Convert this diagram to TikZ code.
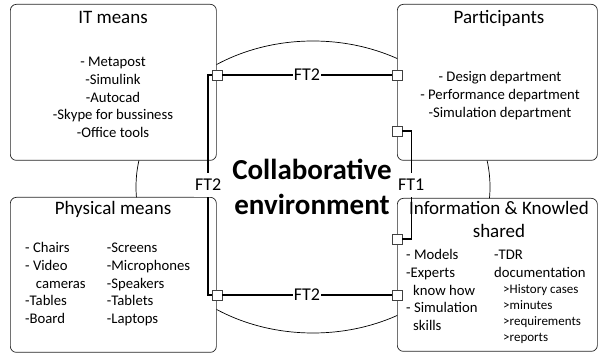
\documentclass[tikz,border=0pt]{standalone}
\usepackage{fontspec}
\setmainfont{Carlito}
\usetikzlibrary{positioning}

\begin{document}
\begin{tikzpicture}[
  x=1pt, y=-1pt,
  box/.style={draw=black!85, line width=0.7pt, rounded corners=6pt, fill=white, inner sep=0pt, anchor=north west},
  port/.style={draw=black!75, line width=0.6pt, fill=white, minimum size=10pt, inner sep=0pt},
  link/.style={line width=1.6pt},
  boxtitle/.style={font=\fontsize{19}{23}\selectfont, anchor=base, inner sep=0pt},
  items/.style={font=\fontsize{14.7}{17.6}\selectfont, anchor=base, inner sep=0pt},
  subitems/.style={font=\fontsize{13}{16}\selectfont, anchor=base west, align=left, inner sep=0pt},
  ftlabel/.style={font=\fontsize{18}{20}\selectfont, fill=white, inner xsep=1pt, minimum height=24pt}
]
\useasboundingbox (0,0) rectangle (598,355);
% collaborative environment
\draw[line width=0.7pt] (313,187) ellipse [x radius=177, y radius=146];
% the four boxes
\node[box, minimum width=206pt, minimum height=156pt] (it) at (10,4) {};
\node[box, minimum width=200pt, minimum height=156pt] (pa) at (397,4) {};
\node[box, minimum width=206pt, minimum height=155pt] (ph) at (10,197) {};
\node[box, minimum width=200pt, minimum height=153pt] (in) at (397,198) {};
% IT means (multi-line nodes sit on their last baseline)
\node[boxtitle] (ittitle) at (113,24) {IT means};
\node[items, align=center] (itlist) at (113,137.4) {- Metapost\\-Simulink\\-Autocad\\-Skype for bussiness\\-Office tools};
% participants
\node[boxtitle] (patitle) at (499,24) {Participants};
\node[items, align=center] (palist) at (500,117.2) {- Design department\\- Performance department\\-Simulation department};
% physical means
\node[boxtitle] (phtitle) at (113,215) {Physical means};
\node[items, anchor=base west, align=left] (phleft) at (25,323.4) {- Chairs\\- Video\\\hspace*{10.7pt}cameras\\-Tables\\-Board};
\node[items, anchor=base west, align=left] (phright) at (106.7,323.4) {-Screens\\-Microphones\\-Speakers\\-Tablets\\-Laptops};
% information
\node[boxtitle, align=center] (intitle) at (499,238) {Information \& Knowled\\shared};
\node[items, anchor=base west, align=left] (inleft) at (406,330.4) {- Models\\-Experts\\\hspace*{7pt}know how\\- Simulation\\\hspace*{7pt}skills};
\node[items, anchor=base west, align=left] (inright) at (494,277.6) {-TDR\\documentation};
\node[subitems] (insub) at (503,342) {>History cases\\>minutes\\>requirements\\>reports};
% ports
\node[port] (itport) at (217,75) {};
\node[port] (paport) at (397,75) {};
\node[port] (paport2) at (397,131) {};
\node[port] (inport) at (397,239) {};
\node[port] (inport2) at (397,295) {};
\node[port] (phport) at (217,295) {};
% flows
\draw[link] (itport) -- node[ftlabel] (fttop) {FT2} (paport);
\draw[link] (itport.west) -- ++(-3.5,0) |- node[ftlabel, pos=0.25] (ftleft) {FT2} (phport.west);
\draw[link] (paport2.east) -- ++(9,0) |- node[ftlabel, pos=0.25] (ftright) {FT1} (inport.east);
\draw[link] (phport) -- node[ftlabel] (ftbottom) {FT2} (inport2);
% centre
\node[font=\bfseries\fontsize{29}{35}\selectfont, align=center, anchor=base, inner sep=0pt] (collab) at (312,215) {Collaborative\\environment};
\end{tikzpicture}
\end{document}
